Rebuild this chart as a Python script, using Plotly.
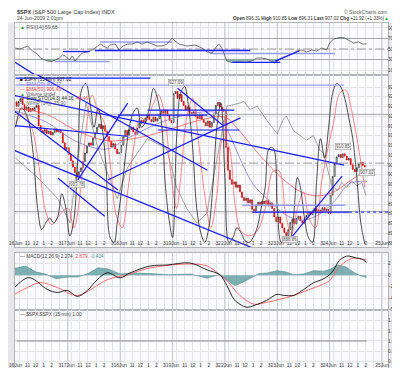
import plotly.graph_objects as go

W, H = 400, 368

# ---------------- data ----------------
day_labels = ["16Jun", "17Jun", "18Jun", "19Jun", "22Jun", "23Jun", "24Jun", "25Jun"]
hour_labels = ["", "11", "12", "1", "2", "3"]
last_day_hour_labels = ["", "11", "12", "1", "2", ""]
hour_offsets = [2, 6, 10, 14, 18, 22]
bars_per_day = 26
prev_close = 923.72

close_16jun = [922.6, 923.8, 924.5, 923.0, 921.6, 922.4, 921.2, 922.0, 921.5, 922.3,
               922.8, 917.6, 916.4, 915.8, 916.6, 915.6, 916.2, 915.2, 915.9, 916.8,
               916.0, 916.5, 915.8, 913.2, 911.4, 911.97]
close_17jun = [910.2, 908.6, 907.0, 905.6, 904.4, 905.8, 906.8, 908.4, 910.6, 912.4,
               913.2, 912.6, 914.4, 915.8, 917.2, 918.0, 916.8, 917.6, 916.2, 914.8,
               913.6, 912.2, 913.0, 911.6, 910.4, 910.71]
close_18jun = [912.6, 914.8, 916.4, 915.2, 916.6, 917.2, 916.0, 915.4, 917.0, 918.2,
               919.0, 918.4, 919.6, 920.4, 919.2, 918.6, 919.8, 918.8, 919.4, 920.6,
               921.4, 920.8, 921.6, 920.2, 919.0, 918.37]
close_19jun = [925.8, 926.4, 924.6, 925.6, 923.8, 922.8, 921.6, 922.4, 921.0, 920.2,
               921.2, 920.0, 919.4, 920.6, 919.2, 918.4, 917.6, 918.8, 917.2, 918.4,
               920.6, 922.8, 923.6, 922.4, 921.8, 921.23]
close_22jun = [912.0, 906.2, 903.8, 902.6, 903.2, 901.8, 902.4, 900.6, 899.2, 898.4,
               899.0, 897.8, 898.6, 896.2, 895.4, 897.2, 898.0, 897.4, 898.2, 897.6,
               898.4, 897.0, 897.8, 896.4, 894.2, 893.04]
close_23jun = [894.2, 892.6, 891.4, 890.2, 889.4, 891.0, 892.8, 893.6, 892.4, 893.8,
               894.4, 893.2, 892.6, 893.8, 894.6, 895.6, 894.8, 895.8, 896.4, 895.2,
               896.0, 895.4, 896.6, 895.8, 896.2, 895.10]
close_24jun = [899.8, 904.6, 907.8, 909.6, 910.2, 909.4, 910.4, 909.8, 908.8, 909.2,
               907.6, 906.4, 905.8, 906.8, 907.8, 908.2, 907.4, 907.02]
closes_by_day = [close_16jun, close_17jun, close_18jun, close_19jun,
                 close_22jun, close_23jun, close_24jun]

# moving averages (bar position, price)
ema50_x = [0, 15, 30, 45, 60, 75, 90, 104, 110, 118, 126, 134, 142, 150, 158, 166, 174.5]
ema50_v = [922.0, 920.6, 916.4, 913.8, 914.4, 916.4, 918.8, 919.8, 917.0, 912.0,
           907.4, 903.4, 900.6, 899.6, 900.6, 903.4, 906.4]
ema20_x = [0, 15, 30, 45, 55, 70, 85, 100, 106, 112, 118, 126, 134, 142, 150, 158, 166, 174.5]
ema20_v = [921.4, 918.6, 913.6, 911.6, 914.2, 918.0, 920.4, 920.8, 915.6, 908.6,
           902.6, 898.4, 894.8, 893.4, 894.6, 898.0, 902.8, 903.3]

# slow stochastic drawn over the price panel (0-100)
sto_k_x = [0, 3, 6, 8.5, 11, 13, 15, 17, 19, 21, 23, 25, 27, 29, 31, 33, 35, 37, 39, 41,
           43, 45, 47, 49, 50.5, 52.5, 54.5, 56.5, 58.5, 60.5, 62.5, 64.5, 66.5, 68.5, 70.5,
           72.5, 74.5, 76.5, 78, 80, 82, 84, 86, 88, 90, 92, 94, 96, 98, 100, 102, 104, 106,
           108, 110, 112, 114, 116, 118, 120, 122, 124, 126, 128, 130, 132, 134, 136, 138,
           140, 141.5, 143.5, 145.5, 147.5, 149.5, 151.5, 153.5, 155.5, 157.5, 159.5, 161.5,
           163.5, 165.5, 167.5, 169.5, 171.5, 173.5]
sto_k_v = [72, 84, 78, 59, 22, 9, 13, 16, 13, 17, 31, 22, 5, 15, 53, 96, 99, 87, 72, 84,
           72, 47, 4, 1, 13, 31, 53, 72, 81, 84, 72, 75, 84, 96, 90, 75, 35, 13, 4, 65, 93,
           97, 84, 59, 22, 7, 1, 10, 35, 72, 87, 41, 1, 4, 10, 7, 2, 1, 4, 10, 22, 35, 59,
           59, 22, 1, 4, 1, 16, 41, 35, 16, 4, 1, 38, 65, 53, 72, 93, 99, 97, 90, 78, 65,
           41, 13, 0]
sto_d_x = [0, 4, 8, 12, 15, 18, 22, 26, 29, 32, 35, 38, 41, 44, 47, 50, 53, 56, 59, 62, 65,
           68, 71, 74, 77, 80, 82, 85, 88, 91, 94, 97, 100, 103, 106, 109, 112, 116, 120, 124,
           128, 131, 134, 137, 140, 143, 146, 149, 152, 155, 158, 161, 164, 167, 170, 173.5]
sto_d_v = [75, 80, 72, 45, 20, 12, 18, 22, 10, 30, 70, 92, 82, 75, 50, 18, 10, 35, 62, 78,
           76, 85, 92, 80, 45, 22, 40, 78, 90, 62, 30, 10, 30, 65, 60, 25, 8, 5, 8, 22, 45,
           45, 20, 6, 22, 32, 15, 10, 38, 58, 75, 93, 95, 82, 62, 35]
sto_levels = [20, 80]
wr_x = [0, 11, 21, 27, 31, 35, 41, 45.5, 50.5, 55.5, 65.5, 75, 80, 85, 90, 95, 100, 105,
        111.5, 113.5, 116.5, 120, 125, 130, 133, 134.5, 138, 141, 144.5, 148, 151, 153,
        155.5, 157, 160, 162, 164.5, 167, 169.5, 172, 174]
wr_v = [53, 41, 28, 13, 53, 87, 59, 44, 28, 47, 65, 59, 35, 22, 13, 19, 53, 85, 87, 88,
        83, 85, 76, 68, 77, 79, 70, 67, 64, 67, 58, 56, 44, 36, 33, 38, 35, 39, 36, 38, 30]

# user trend lines (start bar, start price, end bar, end price)
blue_lines = [
    (0, 929.8, 67, 929.8),
    (-3.7, 925.7, 163.2, 907.5),
    (-3.7, 911.9, 138.4, 881.9),
    (-3.7, 934.9, 95.3, 906.2),
    (-3.7, 922.6, 50.8, 901.1),
    (21, 904.2, 44.3, 894.4),
    (31, 903.7, 55.7, 923.4),
    (45.8, 903.7, 111.7, 919.6),
    (80.5, 927.2, 102.8, 917.8),
    (65.6, 921.6, 108.7, 921.6),
    (70.6, 916.5, 111.2, 916.5),
    (50.8, 920.3, 95.3, 920.3),
    (-3.7, 917.8, 55.7, 914.9),
    (117.6, 895.45, 165.7, 895.45),
    (136, 888.3, 162.2, 904.7),
]
lavender_lines = [
    (0, 928.0, 163.2, 928.0),
    (112.7, 897.2, 163.7, 897.2),
]
dotted_lines = [(165.7, 895.45, 186, 895.45)]
last_line_level = 908.0

# price labels (bar, price, text)
price_labels = [(30.5, 902.6, "903.78"), (79.5, 928.6, "927.09"),
                (136.5, 888.3, "888.86"), (162.5, 912.3, "910.85"),
                (174.8, 905.5, "907.02")]

# RSI(14)
rsi_x = [0, 2, 3.5, 6, 8.4, 10.9, 12.4, 14.4, 15.8, 18.3, 19.8, 21.8, 23.3, 24.8, 26.7,
         28.2, 29.7, 30.7, 33.2, 35.7, 38.1, 40.6, 42.1, 43.6, 45.6, 47.1, 49.5, 51.5,
         53.5, 55.5, 58, 60.4, 62.9, 65.4, 67.9, 70.3, 72.8, 75.3, 77.8, 79.2, 81.2, 85.2,
         89.2, 92.6, 95.1, 97.6, 100, 101, 102.5, 104, 105, 107.5, 110, 114.9, 117.4,
         119.9, 122.3, 124.8, 127.3, 128.8, 130.8, 132.2, 134.7, 137.2, 139.7, 142.1,
         144.6, 147.1, 149.6, 152.1, 154.5, 156, 158, 161, 163.4, 165.4, 167.9, 170.4,
         172.4, 174.3]
rsi_v = [51.9, 50, 51.9, 55.7, 46.2, 40.5, 32.9, 29, 27.1, 26.2, 29, 32.9, 38.6, 36.7, 29,
         36.7, 27.1, 32.9, 42.4, 44.3, 48.1, 55.7, 59.5, 55.7, 51.9, 57.6, 59.5, 48.1,
         55.7, 59.5, 59.5, 63.3, 59.5, 63.3, 59.5, 55.7, 55.7, 59.5, 71, 65.2, 59.5, 55.7,
         57.6, 51.9, 44.3, 42.4, 55.7, 59.5, 51.9, 36.7, 27.1, 24.3, 25.2, 24.3, 27.1,
         32.9, 32.9, 31, 27.1, 23.3, 29, 32.9, 36.7, 40.5, 46.2, 48.1, 44.3, 48.1, 46.2,
         51.9, 48.1, 61.4, 69, 71.9, 71, 67.1, 61.4, 63.3, 59.5, 59.68]
rsi_levels = [30, 70]
rsi_blue_lines = [(39.4, 47.1, 116.6, 47.1), (23.5, 45.2, 36.9, 45.2),
                  (107.7, 24.7, 131.5, 24.7), (129, 27.1, 140.9, 46.2),
                  (-3.7, 32.9, 12.1, -5.2)]
rsi_lavender_lines = [(41.9, 63.3, 78, 63.3), (96.8, 41.4, 158.7, 41.4),
                      (19.6, 26.2, 46.8, 26.2)]

# MACD(12,26,9)
macd_x = [-0.5, 5.9, 9.4, 15.8, 20.8, 25.8, 30.7, 35.7, 40.6, 45.6, 52, 57, 66.9, 75.3,
          86.7, 95.1, 101.5, 105, 108.5, 111.4, 114.9, 118.9, 124.8, 129.8, 133.2, 138.2,
          143.1, 148.1, 152.1, 156, 158, 161, 164.4, 165.9, 169.4, 171.9, 174.3]
macd_v = [-2.14, -0.43, -0.77, -2.48, -2.99, -2.65, -3.68, -2.65, -0.77, 0.43, -0.43,
          0.43, 1.62, 1.79, 2.14, 0.94, 0.09, -1.79, -4.19, -5.04, -5.56, -5.21, -4.36,
          -3.33, -3.5, -3.5, -2.48, -1.28, -0.77, 0.09, 0.94, 2.65, 3.33, 3.33, 2.99, 2.82,
          2.274]
signal_x = [-0.5, 5.9, 12.4, 20.8, 30.7, 45.6, 55.5, 66.9, 86.7, 95.1, 101.5, 105, 111.4,
            118.4, 124.8, 131.2, 138.2, 144.6, 151.1, 156, 159.5, 163, 167.9, 171.9, 174.3]
signal_v = [-3.33, -2.14, -1.28, -2.14, -3.5, -0.77, 0.09, 1.28, 1.97, 1.62, 0.09, -0.94,
            -3.5, -5.04, -4.7, -4.19, -3.5, -2.65, -1.79, -0.94, 0.94, 2.14, 2.99, 2.82,
            2.679]
hist_x = [-0.5, 5, 10, 15, 20, 26, 31, 36, 41, 46, 52, 58, 67, 76, 87, 95, 101, 105, 109,
          113, 117, 121, 125, 130, 134, 138, 143, 148, 153, 156, 160, 164, 168, 171, 174.3]
hist_v = [1.2, 1.6, 0.6, 0.2, -0.6, -0.3, -0.3, 0.3, 1.3, 1.1, 0.2, 0.4, 0.3, 0.1, 0.2,
          -0.5, 0.1, -0.9, -1.8, -1.2, -0.4, 0.3, 0.4, 0.8, 0.6, 0.1, 0.2, 0.8, 0.7, 1.0,
          1.8, 1.5, 0.5, 0.0, -0.404]

# $SPX:$SPX ratio
ratio_x = [0.5, 174.5]
ratio_v = [1.0, 1.0]

# ---------------- geometry helpers (layout only) ----------------
def px(x):
    return x / W


def py(y):
    return 1 - y / H


X_RANGE = [-0.25, 185.0]
X_DOM = [px(7), px(380)]
FONT = "Liberation Sans, Arial, sans-serif"

# ---------------- build candles ----------------
u_vals, o_vals, h_vals, l_vals, c_vals = [], [], [], [], []
prev = prev_close
for d, closes in enumerate(closes_by_day):
    for j, c in enumerate(closes):
        u_vals.append(d * bars_per_day + j + 0.5)
        o_vals.append(prev)
        c_vals.append(c)
        h_vals.append(max(prev, c))
        l_vals.append(min(prev, c))
        prev = c

# ticks
tickvals, ticktext, day_pos = [], [], []
for d, lab in enumerate(day_labels):
    base = d * bars_per_day
    tickvals.append(base)
    ticktext.append(lab)
    day_pos.append(base)
    if d < len(day_labels) - 1:
        labs = last_day_hour_labels if d == len(day_labels) - 2 else hour_labels
        for off, hl in zip(hour_offsets, labs):
            tickvals.append(base + off)
            ticktext.append(hl)

fig = go.Figure()


def line(x, y, xa, ya, color, width=1, dash=None, shape="linear"):
    fig.add_trace(go.Scatter(x=x, y=y, xaxis=xa, yaxis=ya, mode="lines",
                             line=dict(color=color, width=width, dash=dash, shape=shape),
                             hoverinfo="skip", showlegend=False))


# darker day separator lines drawn as traces in each panel
panel_spans = {("x", "y"): (0.5, 99.5), ("x3", "y3"): (-6.05, 3.88),
               ("x4", "y4"): (0.443, 1.616)}

for (xa, ya), (lo, hi) in panel_spans.items():
    for dp in day_pos[1:]:
        line([dp, dp], [lo, hi], xa, ya, "#c6c6ce", 1)

# ---- RSI panel ----
for lvl in rsi_levels:
    line([X_RANGE[0], X_RANGE[1]], [lvl, lvl], "x", "y", "#a8a8a8", 1)
line([X_RANGE[0], X_RANGE[1]], [50, 50], "x", "y", "#9a9a9a", 1, dash="dashdot")
fig.add_trace(go.Scatter(x=rsi_x, y=[30] * len(rsi_x), xaxis="x", yaxis="y", mode="lines",
                         line=dict(width=0), hoverinfo="skip", showlegend=False))
fig.add_trace(go.Scatter(x=rsi_x, y=[min(v, 30) for v in rsi_v], xaxis="x", yaxis="y",
                         mode="lines", line=dict(width=0), fill="tonexty",
                         fillcolor="rgba(100,160,140,0.75)", hoverinfo="skip", showlegend=False))
fig.add_trace(go.Scatter(x=rsi_x, y=[70] * len(rsi_x), xaxis="x", yaxis="y", mode="lines",
                         line=dict(width=0), hoverinfo="skip", showlegend=False))
fig.add_trace(go.Scatter(x=rsi_x, y=[max(v, 70) for v in rsi_v], xaxis="x", yaxis="y",
                         mode="lines", line=dict(width=0), fill="tonexty",
                         fillcolor="rgba(100,160,140,0.75)", hoverinfo="skip", showlegend=False))
for (a, b, c, d) in rsi_lavender_lines:
    line([a, c], [b, d], "x", "y", "#9c9cff", 1.3)
line(rsi_x, rsi_v, "x", "y", "#555555", 0.8)
for (a, b, c, d) in rsi_blue_lines:
    line([a, c], [b, d], "x", "y", "#1a1aff", 1.3)

# ---- price panel ----
for dp in day_pos[1:]:
    line([dp, dp], [886.5, 930.6], "x2", "y2", "#c6c6ce", 1)
line([X_RANGE[0], X_RANGE[1]], [last_line_level, last_line_level], "x2", "y2",
     "#9a9a9a", 1, dash="dashdot")
fig.add_trace(go.Candlestick(
    x=u_vals, open=o_vals, high=h_vals, low=l_vals, close=c_vals,
    xaxis="x2", yaxis="y2", whiskerwidth=0,
    increasing=dict(line=dict(color="#111111", width=0.6), fillcolor="#ffffff"),
    decreasing=dict(line=dict(color="#e00000", width=0.6), fillcolor="#e00000"),
    hoverinfo="skip", showlegend=False))
line(ema50_x, ema50_v, "x2", "y2", "#ff5a5a", 0.8, shape="spline")
line(ema20_x, ema20_v, "x2", "y2", "#8a7ad8", 0.8, shape="spline")
# oscillators on overlay axis
for lvl in sto_levels:
    line([X_RANGE[0], X_RANGE[1]], [lvl, lvl], "x2", "y5", "#a8a8a8", 1)
line(wr_x, wr_v, "x2", "y5", "#8c8c8c", 0.8)
line(sto_d_x, sto_d_v, "x2", "y5", "#ff6a6a", 0.8, shape="spline")
line(sto_k_x, sto_k_v, "x2", "y5", "#222222", 0.8, shape="spline")
# trend lines on top overlay axis
for (a, b, c, d) in lavender_lines:
    line([a, c], [b, d], "x2", "y6", "#9c9cff", 1.3)
for (a, b, c, d) in blue_lines:
    line([a, c], [b, d], "x2", "y6", "#1a1aff", 1.2)
for (a, b, c, d) in dotted_lines:
    line([a, c], [b, d], "x2", "y6", "#1a1aff", 1, dash="dot")

# ---- MACD panel ----
fig.add_trace(go.Scatter(x=hist_x, y=hist_v, xaxis="x3", yaxis="y3", mode="lines",
                         line=dict(color="#4f8f8f", width=0.6), fill="tozeroy",
                         fillcolor="rgba(95,158,160,0.8)", hoverinfo="skip", showlegend=False))
line(signal_x, signal_v, "x3", "y3", "#ff5e5e", 0.9, shape="spline")
line(macd_x, macd_v, "x3", "y3", "#111111", 0.9, shape="spline")

# ---- ratio panel ----
line(ratio_x, ratio_v, "x4", "y4", "#8a8a8a", 1)

# ---------------- layout ----------------
tickfont = dict(family=FONT, size=5, color="#444")
grid = "#e3e3ea"


def xaxis(dom_labels):
    return dict(domain=X_DOM, range=X_RANGE, tickmode="array", tickvals=tickvals,
                ticktext=ticktext, showticklabels=dom_labels, showgrid=True, gridcolor=grid,
                gridwidth=1, zeroline=False, showline=True, linecolor="#b5b5bd", mirror=True,
                ticks="", ticklen=0, tickfont=tickfont, fixedrange=True, tickangle=0,
                automargin=False, ticklabelstandoff=-9)


def yaxis(dom, rng, tv, fmt=None):
    d = dict(domain=dom, range=rng, tickmode="array", tickvals=tv, side="right",
             showgrid=True, gridcolor=grid, zeroline=False, showline=True,
             linecolor="#b5b5bd", mirror=True, ticks="", ticklen=0,
             tickfont=dict(family=FONT, size=4.6, color="#444"),
             fixedrange=True, tickangle=0, automargin=False, ticklabelstandoff=-2)
    if fmt:
        d["tickformat"] = fmt
    return d


layout = dict(
    width=W, height=H, autosize=False,
    margin=dict(l=0, r=0, t=0, b=0),
    paper_bgcolor="#e7e7ec", plot_bgcolor="#fbfbfd",
    showlegend=False,
    font=dict(family=FONT, size=5, color="#333"),
    xaxis=dict(xaxis(False), anchor="y"),
    yaxis=dict(yaxis([py(67), py(15)], [0.5, 99.5], [10, 30, 50, 70, 90]), anchor="x"),
    xaxis2=dict(xaxis(True), anchor="y2", rangeslider=dict(visible=False)),
    yaxis2=dict(yaxis([py(239), py(67)], [886.5, 930.6],
                      [887.5 + 2.5 * k for k in range(17)], ".1f"), anchor="x2"),
    yaxis5=dict(overlaying="y2", anchor="x2", range=[-1.85, 104.3], visible=False,
                fixedrange=True),
    yaxis6=dict(overlaying="y2", anchor="x2", range=[886.5, 930.6], visible=False,
                fixedrange=True),
    xaxis3=dict(xaxis(False), anchor="y3"),
    yaxis3=dict(yaxis([py(302), py(245)], [-6.05, 3.88], [-6, -4, -2, 0, 2]), anchor="x3"),
    xaxis4=dict(xaxis(True), anchor="y4"),
    yaxis4=dict(yaxis([py(361), py(302)], [0.443, 1.616], [0.6, 0.8, 1.0, 1.2, 1.4], ".1f"),
                anchor="x4"),
)

layout["shapes"] = [
    dict(type="rect", xref="paper", yref="paper", x0=0, x1=1, y0=py(15), y1=1,
         fillcolor="#ffffff", line=dict(width=0), layer="below"),
]

ann = []


def text(x, y, t, size=5, color="#333", anchor="left"):
    ann.append(dict(xref="paper", yref="paper", x=px(x), y=py(y), text=t, showarrow=False,
                    xanchor=anchor, yanchor="middle",
                    font=dict(family=FONT, size=size, color=color)))


text(7, 3.5, "<b>$SPX</b> (S&P 500 Large Cap Index) INDX", 5.5, "#333")
text(7, 10, "24-Jun-2009 2:01pm", 5, "#444")
text(381, 3.5, "© StockCharts.com", 5, "#555", "right")
text(383, 10, "<b>Open</b> 896.31 <b>High</b> 910.85 <b>Low</b> 896.31 <b>Last</b> 907.02 "
     "<b>Chg</b> +11.92 (+1.33%)<span style='color:#2a9a2a'>▲</span>", 4.6, "#333", "right")
text(10, 18.5, "<span style='color:#2a9a2a'>▲</span> RSI(14) 59.68", 5, "#555")

text(10, 71, "■ $SPX (15 Min) 907.02", 4.8, "#222")
text(10, 76.5, "— EMA(20) 903.27", 4.8, "#7a6ad8")
text(10, 81.5, "— EMA(50) 906.40", 4.8, "#ee4444")
text(10, 86.5, "<span style='color:#2a9a2a'>▲</span> Volume undef", 4.8, "#555")
text(10, 91, "— Slow STO(14,3) 44.16, <span style='color:#ee4444'>40.46</span>", 4.8, "#222")
text(10, 95.5, "— [W%R (14)] -25.90", 4.8, "#666")

text(10, 248.5, "— MACD(12,26,9) 2.274, <span style='color:#ee4444'>2.679</span>, "
     "<span style='color:#4f9090'>-0.404</span>", 4.8, "#444")
text(10, 306.5, "— $SPX:$SPX (15 min) 1.00", 4.8, "#444")

for (u, p, t) in price_labels:
    ann.append(dict(xref="x2", yref="y2", x=u, y=p, text=t, showarrow=False,
                    font=dict(family=FONT, size=4.5, color="#555"), bgcolor="#f4f4f4",
                    bordercolor="#9a9a9a", borderwidth=0.6, borderpad=0.5))
layout["annotations"] = ann

fig.update_layout(**layout)
fig.write_html("out.html")
